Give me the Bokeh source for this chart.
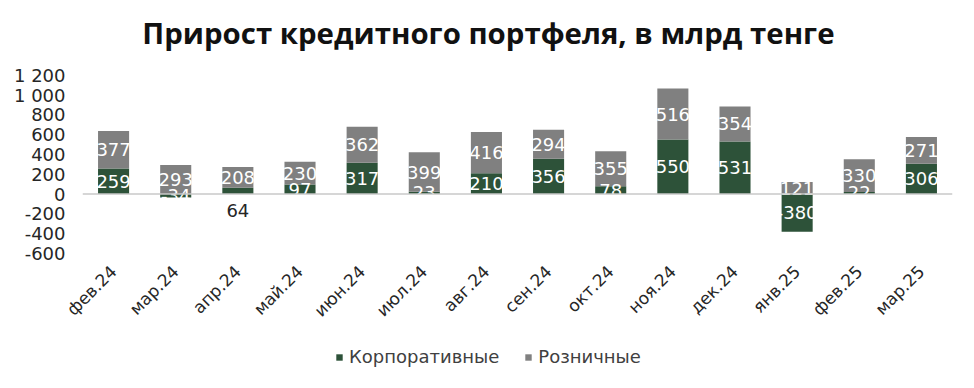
from bokeh.plotting import figure
from bokeh.layouts import column
from bokeh.models import ColumnDataSource, FixedTicker, Span, Legend, LegendItem, Range1d, FactorRange
from bokeh.core.properties import value
from bokeh.embed import file_html
from bokeh.resources import INLINE
from math import pi

title_text = "Прирост кредитного портфеля, в млрд тенге"
months = ["фев.24", "мар.24", "апр.24", "май.24", "июн.24", "июл.24", "авг.24",
          "сен.24", "окт.24", "ноя.24", "дек.24", "янв.25", "фев.25", "мар.25"]
corporate = [259, -34, 64, 97, 317, 23, 210, 356, 78, 550, 531, -380, 22, 306]
retail = [377, 293, 208, 230, 362, 399, 416, 294, 355, 516, 354, 121, 330, 271]
series_names = ["Корпоративные", "Розничные"]
corp_label_below = [False, False, True, False, False, False, False,
                    False, False, False, False, False, False, False]
y_ticks = [-600, -400, -200, 0, 200, 400, 600, 800, 1000, 1200]
y_tick_labels = ["-600", "-400", "-200", "0", "200", "400", "600", "800", "1 000", "1 200"]

GREEN = "#2d5239"
GRAY = "#808080"
FONT = "DejaVu Sans"
TFONT = "Open Sans"
TXT = "#262626"

# value scale runs from -600 at the frame bottom; the frame continues up to the canvas top
# so that the title can be drawn inside it
chart = figure(width=966, height=330, title=None,
               x_range=FactorRange(*months, range_padding=0),
               y_range=Range1d(-600, 1954), output_backend="svg", toolbar_location=None,
               min_border_left=82, min_border_right=14, min_border_top=0, min_border_bottom=76)

corp_bottom = [0] * len(months)
corp_top = corporate
retail_bottom = [max(c, 0) for c in corporate]
retail_top = [b + r for b, r in zip(retail_bottom, retail)]

src = ColumnDataSource(dict(
    x=months, cb=corp_bottom, ct=corp_top, rb=retail_bottom, rt=retail_top,
    cy=[(c / 2 if not below else 0) for c, below in zip(corporate, corp_label_below)],
    ry=[b + r / 2 for b, r in zip(retail_bottom, retail)],
    clab=[str(c) for c in corporate], rlab=[str(r) for r in retail],
    ccol=["#262626" if below else "white" for below in corp_label_below],
    coff=[16 if below else 0 for below in corp_label_below],
))

chart.vbar(x="x", bottom="cb", top="ct", width=0.5, source=src, fill_color=GREEN, line_color=None)
chart.vbar(x="x", bottom="rb", top="rt", width=0.5, source=src, fill_color=GRAY, line_color=None)

chart.add_layout(Span(location=0, dimension="width", line_color="#c8c8c8", line_width=1.5))

chart.text(x="x", y="cy", text="clab", source=src, text_color="ccol", y_offset="coff",
           text_align="center", text_baseline="middle", text_font=value(FONT), text_font_size="18px")
chart.text(x="x", y="ry", text="rlab", source=src, text_color="white",
           text_align="center", text_baseline="middle", text_font=value(FONT), text_font_size="18px")

# title, centred above the bars
chart.text(x=[months[6]], y=[y_ticks[-1]], text=[title_text], x_offset=2, y_offset=-42,
           text_align="center", text_baseline="middle", text_font=value(TFONT),
           text_font_style="bold", text_font_size="29.4px", text_color="#111111")

chart.xgrid.visible = False
chart.ygrid.visible = False
chart.outline_line_color = None

chart.yaxis.ticker = FixedTicker(ticks=y_ticks)
chart.yaxis.major_label_overrides = {t: l for t, l in zip(y_ticks, y_tick_labels)}
chart.yaxis.axis_line_color = None
chart.yaxis.major_tick_line_color = None
chart.yaxis.minor_tick_line_color = None
chart.yaxis.major_label_standoff = 11
chart.yaxis.major_label_text_font = FONT
chart.yaxis.major_label_text_font_size = "18px"
chart.yaxis.major_label_text_color = TXT

chart.xaxis.axis_line_color = None
chart.xaxis.major_tick_line_color = None
chart.xaxis.major_tick_out = 0
chart.xaxis.major_label_orientation = pi / 4
chart.xaxis.major_label_standoff = 15
chart.xaxis.major_label_text_font = FONT
chart.xaxis.major_label_text_font_size = "17px"
chart.xaxis.major_label_text_color = TXT

# legend strip; its swatch renderers hold the series but have zero width and lie out of view
leg = figure(width=966, height=56, title=None, x_range=Range1d(-100, -99), y_range=Range1d(5000, 5001),
             x_axis_location=None, y_axis_location=None, output_backend="svg",
             toolbar_location=None, min_border=0)
leg.grid.visible = False
leg.outline_line_color = None
idx = list(range(len(months)))
lr1 = leg.vbar(x=idx, top=corporate, width=0, fill_color=GREEN, line_color=None)
lr2 = leg.vbar(x=idx, top=retail, width=0, fill_color=GRAY, line_color=None)
legend = Legend(items=[LegendItem(label=series_names[0], renderers=[lr1]),
                       LegendItem(label=series_names[1], renderers=[lr2])],
                orientation="horizontal", location=(253, 19),
                glyph_width=8, glyph_height=8, label_standoff=6, spacing=25,
                padding=0, margin=0, border_line_color=None, background_fill_alpha=0,
                label_text_font=FONT, label_text_font_size="18px", label_text_color="#404040")
leg.add_layout(legend, "center")

p = column(chart, leg, spacing=0)

open("out.html", "w").write(file_html(p, INLINE))
